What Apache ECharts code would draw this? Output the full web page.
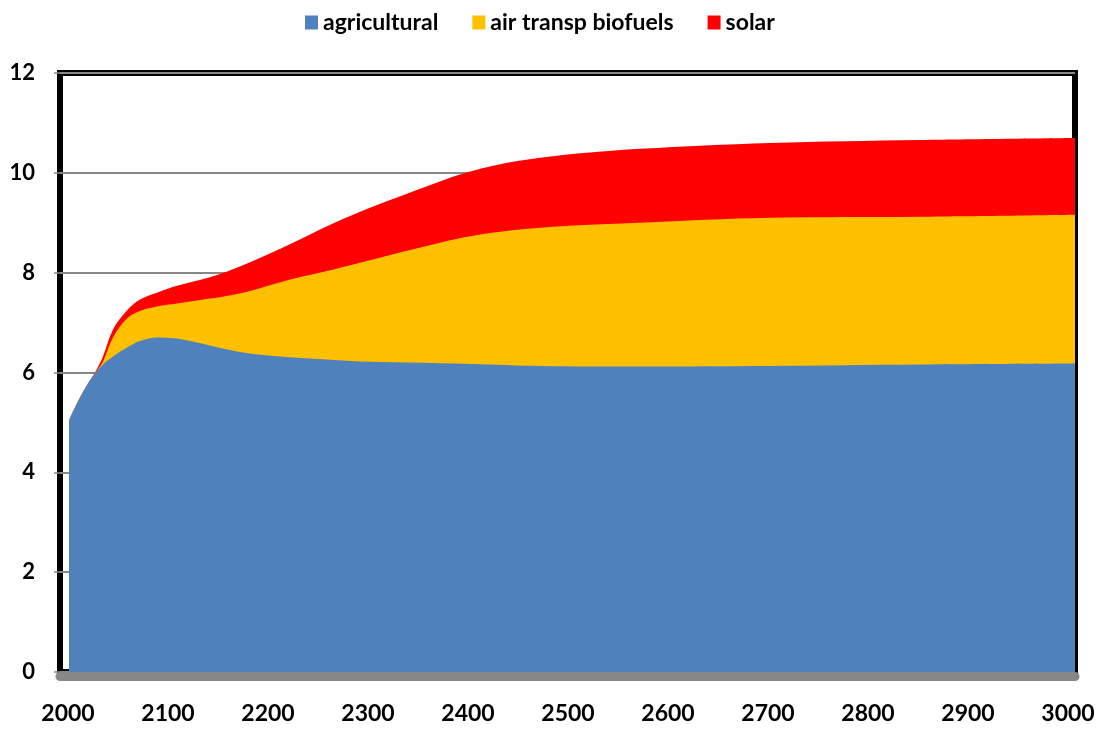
<!DOCTYPE html>
<html>
<head>
<meta charset="utf-8">
<script src="https://cdn.jsdelivr.net/npm/echarts@6/dist/echarts.min.js"></script>
<style>
html,body{margin:0;padding:0;background:#fff;}
#chart{width:1099px;height:730px;}
</style>
</head>
<body>
<div id="chart"></div>
<script>
// ---- data ----
const years        = [2001, 2005, 2012, 2020, 2027, 2035, 2045, 2059, 2072, 2089, 2109, 2142, 2175, 2225, 2258, 2292, 2339, 2405, 2472, 2572, 2702, 2852, 3007];
const agricultural = [5.04, 5.22, 5.5, 5.78, 5.98, 6.16, 6.32, 6.5, 6.63, 6.7, 6.68, 6.54, 6.4, 6.3, 6.26, 6.22, 6.2, 6.17, 6.13, 6.12, 6.13, 6.16, 6.18];
const airBiofuels  = [0, 0, 0, 0, 0, 0.06, 0.38, 0.58, 0.6, 0.62, 0.70, 0.94, 1.2, 1.58, 1.77, 1.98, 2.24, 2.57, 2.77, 2.88, 2.97, 2.96, 2.98];
const solar        = [0, 0, 0, 0, 0.02, 0.1, 0.16, 0.16, 0.23, 0.28, 0.36, 0.43, 0.55, 0.72, 0.89, 1.02, 1.14, 1.3, 1.4, 1.48, 1.5, 1.54, 1.54];
const seriesNames  = ['agricultural', 'air transp biofuels', 'solar'];
const yTicks       = [0, 2, 4, 6, 8, 10, 12];
const xTicks       = [2000, 2100, 2200, 2300, 2400, 2500, 2600, 2700, 2800, 2900, 3000];

const colors = ['#4F81BD', '#FFC000', '#FF0000'];
const FONT = 'Lato, "Open Sans", sans-serif';

// cumulative (stacked) totals built from the series arrays
const values = [agricultural, airBiofuels, solar];
const cumulative = values.map((arr, k) =>
  years.map((y, i) => {
    let s = 0;
    for (let j = 0; j <= k; j++) s += values[j][i];
    return [y, +s.toFixed(4)];
  })
);

const chart = echarts.init(document.getElementById('chart'), null, {renderer: 'canvas'});
chart.setOption({
  animation: false,
  backgroundColor: '#fff',
  legend: {
    top: 6, left: 300,
    itemWidth: 13, itemHeight: 14, itemGap: 34,
    icon: 'rect',
    textStyle: {fontFamily: FONT, fontWeight: 'bold', fontSize: 23, color: '#000'},
    data: seriesNames
  },
  grid: [
    {left: 60, right: 24, top: 73, bottom: 58, show: true, borderColor: '#000', borderWidth: 6, backgroundColor: 'transparent'},
    {left: 68, right: 31, top: 73, bottom: 58, show: false}
  ],
  xAxis: [
    {type: 'value', gridIndex: 0, min: 1992, max: 3007,
     axisLine: {show: true, onZero: false, lineStyle: {color: '#878787', width: 9}}, offset: 4,
     axisTick: {show: false}, axisLabel: {show: false}, splitLine: {show: false}},
    {type: 'value', gridIndex: 1, min: xTicks[0], max: xTicks[xTicks.length - 1], interval: 100,
     axisLine: {show: false}, axisTick: {show: false}, splitLine: {show: false},
     axisLabel: {show: true, margin: 30, fontFamily: FONT, fontWeight: 'bold', fontSize: 23, color: '#000',
                 formatter: v => String(v)}}
  ],
  yAxis: [
    {type: 'value', gridIndex: 0, min: yTicks[0], max: yTicks[yTicks.length - 1], interval: 2,
     axisLine: {show: false},
     axisTick: {show: true, inside: false, length: 6, lineStyle: {color: '#878787', width: 1.5}},
     axisLabel: {margin: 25, fontFamily: FONT, fontWeight: 'bold', fontSize: 22, color: '#000'},
     splitLine: {show: true, lineStyle: {color: '#878787', width: 2}}},
    {type: 'value', gridIndex: 1, min: 0, max: 12, show: false}
  ],
  series: seriesNames.map((name, k) => ({
    name: name,
    type: 'line',
    xAxisIndex: 0, yAxisIndex: 0,
    z: 10 - k,
    smooth: 0.35,
    showSymbol: false,
    symbol: 'none',
    lineStyle: {width: 0},
    itemStyle: {color: colors[k]},
    areaStyle: {color: colors[k], opacity: 1},
    data: cumulative[k]
  }))
});
</script>
</body>
</html>
